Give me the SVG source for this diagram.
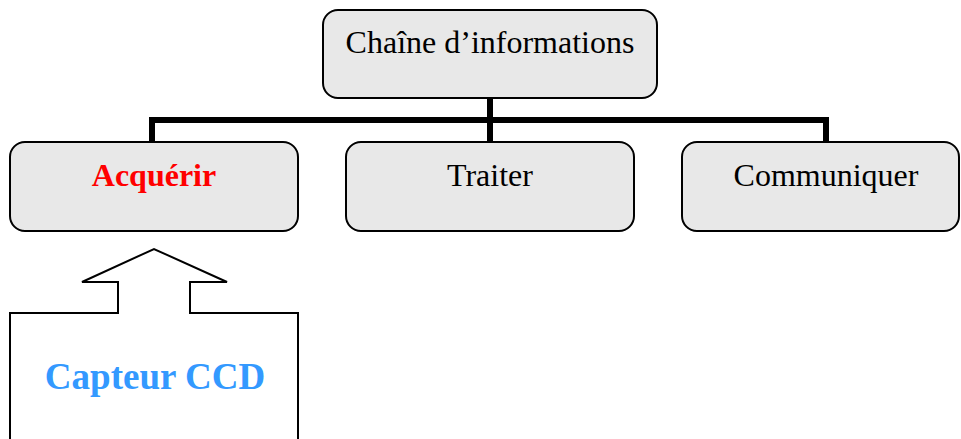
<svg xmlns="http://www.w3.org/2000/svg" width="961" height="439" viewBox="0 0 961 439">
  <style>
    .box { fill: #e8e8e8; stroke: #000; stroke-width: 2; }
    .lbl { font-family: "Liberation Serif", "Times New Roman", serif; font-size: 32px; fill: #000; text-anchor: middle; }
    .wire { fill: none; stroke: #000; stroke-width: 6; }
    .outline { fill: #fff; stroke: #000; stroke-width: 2; }
  </style>
  <rect width="961" height="439" fill="#fff"/>

  <!-- tree connectors -->
  <g id="connectors">
    <path class="wire" d="M490 98 V142 M152 142 V120 H826 V142"/>
  </g>

  <g id="chaine">
    <rect class="box" x="323" y="10" width="334" height="88" rx="15"/>
    <text class="lbl" x="490" y="53">Chaîne d’informations</text>
  </g>

  <g id="acquerir">
    <rect class="box" x="10" y="142" width="288" height="89" rx="15"/>
    <text class="lbl" x="154" y="186" style="fill:#ff0000;font-weight:bold">Acquérir</text>
  </g>

  <g id="traiter">
    <rect class="box" x="346" y="142" width="288" height="89" rx="15"/>
    <text class="lbl" x="490" y="186">Traiter</text>
  </g>

  <g id="communiquer">
    <rect class="box" x="682" y="142" width="277" height="89" rx="15"/>
    <text class="lbl" x="826" y="186">Communiquer</text>
  </g>

  <!-- sensor block with upward arrow into "Acquérir" -->
  <g id="capteur">
    <path class="outline" d="M10 440 V313 H118 V282 H82 L154 249 L227 282 H190 V313 H298 V440"/>
    <text class="lbl" x="155" y="389" style="fill:#3399ff;font-weight:bold;font-size:37px">Capteur CCD</text>
  </g>
</svg>
